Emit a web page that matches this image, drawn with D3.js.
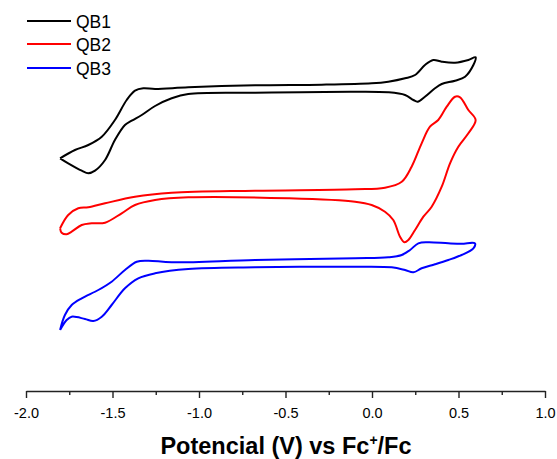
<!DOCTYPE html>
<html>
<head>
<meta charset="utf-8">
<script src="https://cdn.jsdelivr.net/npm/d3@7"></script>
<style>
  html, body { margin: 0; padding: 0; background: #fff; }
  svg { display: block; font-family: "Liberation Sans", Arial, sans-serif; }
</style>
</head>
<body>
<svg id="chart" width="557" height="459"></svg>
<script>
// Cyclic voltammograms, potential (V vs Fc+/Fc) and offset current (a.u.)
const seriesNames = ["QB1", "QB2", "QB3"];
const seriesColors = ["#000000", "#ff0000", "#0000ff"];

const qb1Potential = [-1.803,-1.717,-1.640,-1.562,-1.486,-1.418,-1.370,-1.322,-1.254,-1.062,-0.676,-0.291,-0.002,0.094,0.191,0.249,0.306,0.354,0.403,0.480,0.557,0.599,
  0.586,0.538,0.480,0.403,0.364,0.306,0.264,0.239,0.191,0.094,-0.098,-0.676,-1.062,-1.158,-1.254,-1.331,-1.389,-1.428,-1.486,-1.543,-1.601,-1.640,-1.678,-1.756,-1.803];
const qb1Current = [23.27,24.10,24.60,25.43,27.10,29.10,30.03,30.27,30.20,30.37,30.57,30.63,30.77,30.93,31.27,31.60,32.60,33.10,32.93,32.83,33.10,33.37,
  32.60,31.43,31.03,30.70,30.27,29.43,28.93,29.10,29.60,29.87,29.93,29.83,29.70,29.27,28.50,27.60,27.03,26.60,25.10,23.10,22.03,21.77,22.03,22.77,23.27];

const qb2Potential = [-1.803,-1.756,-1.698,-1.640,-1.543,-1.370,-1.158,-0.676,-0.098,0.075,0.172,0.229,0.287,0.335,0.383,0.432,0.480,0.509,0.557,0.599,
  0.557,0.499,0.451,0.403,0.345,0.297,0.249,0.210,0.187,0.162,0.123,0.075,-0.002,-0.098,-0.484,-1.062,-1.254,-1.370,-1.447,-1.543,-1.620,-1.678,-1.736,-1.765,-1.794,-1.803];
const qb2Current = [16.27,17.60,18.27,18.37,18.77,19.43,19.83,20.03,20.17,20.33,20.93,22.43,24.77,26.43,27.10,28.43,29.43,29.37,28.10,27.10,
  25.77,24.43,22.77,20.43,18.43,17.43,16.10,15.10,14.87,15.43,17.10,17.93,18.60,18.93,19.27,19.37,19.10,18.60,17.77,16.83,16.77,16.60,15.93,15.67,15.83,16.27];

const qb3Potential = [-1.803,-1.775,-1.736,-1.678,-1.582,-1.505,-1.428,-1.360,-1.293,-1.158,-0.676,-0.098,0.094,0.172,0.220,0.268,0.325,0.441,0.518,0.595,
  0.586,0.518,0.441,0.364,0.287,0.239,0.191,0.114,-0.098,-0.676,-1.062,-1.254,-1.351,-1.428,-1.505,-1.562,-1.611,-1.659,-1.736,-1.765,-1.803];
const qb3Current = [6.10,7.60,8.60,9.27,10.10,10.93,12.10,12.93,13.03,12.87,13.10,13.27,13.37,13.60,14.10,14.77,14.87,14.77,14.73,14.77,
  14.27,13.60,13.10,12.67,12.27,11.87,12.10,12.37,12.43,12.37,12.20,11.77,11.27,10.27,8.60,7.43,7.00,7.20,7.43,7.10,6.10];

const xTickValues = [-2.0, -1.5, -1.0, -0.5, 0.0, 0.5, 1.0];
const xMinorTickValues = [-1.75, -1.25, -0.75, -0.25, 0.25, 0.75];

const svg = d3.select("#chart");

const x = d3.scaleLinear().domain([-2.0, 1.0]).range([26, 545]);
const y = d3.scaleLinear().domain([0, 37]).range([391, 21]);

const curves = [
  { pot: qb1Potential, cur: qb1Current },
  { pot: qb2Potential, cur: qb2Current },
  { pot: qb3Potential, cur: qb3Current }
];

const line = d3.line()
  .x(d => x(d[0]))
  .y(d => y(d[1]))
  .curve(d3.curveCatmullRom.alpha(0.5));

curves.forEach((c, i) => {
  const pts = c.pot.map((v, k) => [v, c.cur[k]]);
  svg.append("path")
    .attr("d", line(pts))
    .attr("fill", "none")
    .attr("stroke", seriesColors[i])
    .attr("stroke-width", 2)
    .attr("stroke-linejoin", "round");
});

// tick labels use a plain hyphen for negative values
const tickFmt = d3.formatLocale({ decimal: ".", thousands: ",", grouping: [3], currency: ["", ""], minus: "-" }).format(".1f");

// bottom axis: major ticks with labels, minor ticks without
const axisG = svg.append("g").attr("transform", `translate(0,${y(0)})`);
axisG.call(d3.axisBottom(x).tickValues(xTickValues).tickFormat(tickFmt).tickSize(7).tickSizeOuter(0));
axisG.select(".domain").attr("stroke", "#222").attr("stroke-width", 1.4);
axisG.selectAll(".tick line").attr("stroke", "#222").attr("stroke-width", 1.4);
axisG.selectAll(".tick text")
  .attr("font-size", 14.5)
  .attr("font-family", "'Liberation Sans', Arial, sans-serif")
  .attr("fill", "#000")
  .attr("dy", "0")
  .attr("y", 27);

const minorG = svg.append("g").attr("transform", `translate(0,${y(0)})`);
minorG.call(d3.axisBottom(x).tickValues(xMinorTickValues).tickFormat("").tickSize(4).tickSizeOuter(0));
minorG.select(".domain").remove();
minorG.selectAll(".tick line").attr("stroke", "#222").attr("stroke-width", 1.4);

// axis title
const title = svg.append("text")
  .attr("x", 286)
  .attr("y", 454)
  .attr("text-anchor", "middle")
  .attr("font-size", 23.5)
  .attr("font-weight", "bold")
  .attr("fill", "#000");
title.append("tspan").text("Potencial (V) vs Fc");
title.append("tspan").attr("font-size", 14).attr("dy", -9).text("+");
title.append("tspan").attr("dy", 9).text("/Fc");

// legend
const legendY = [21, 44, 68];
seriesNames.forEach((name, i) => {
  svg.append("line")
    .attr("x1", 27).attr("x2", 71)
    .attr("y1", legendY[i]).attr("y2", legendY[i])
    .attr("stroke", seriesColors[i])
    .attr("stroke-width", 2);
  svg.append("text")
    .attr("x", 76)
    .attr("y", legendY[i] + 6.5)
    .attr("font-size", 17.5)
    .attr("fill", "#000")
    .text(name);
});
</script>
</body>
</html>
